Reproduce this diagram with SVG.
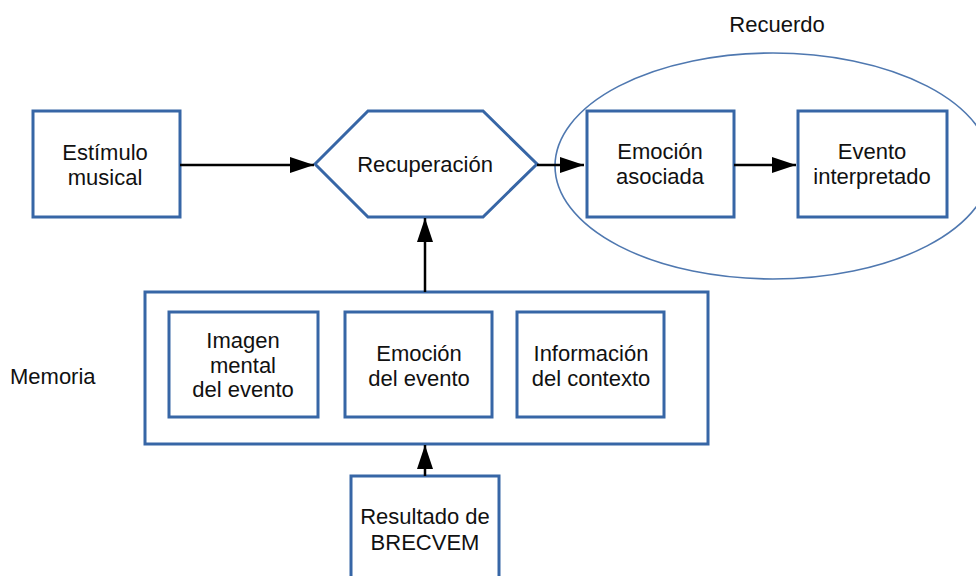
<svg xmlns="http://www.w3.org/2000/svg" width="976" height="576" viewBox="0 0 976 576">
<style>
.box{fill:#fff;stroke:#3766a6;stroke-width:3}
.ell{fill:none;stroke:#4f78b0;stroke-width:1.6}
.t{font-family:"Liberation Sans",Arial,sans-serif;font-size:22px;fill:#111;text-anchor:middle}
.l{font-family:"Liberation Sans",Arial,sans-serif;font-size:22px;fill:#111}
.c{stroke:#000;stroke-width:2.5;fill:none}
</style>
<defs>
<marker id="ah" viewBox="0 0 24 16" refX="24" refY="8" markerWidth="24" markerHeight="16" markerUnits="userSpaceOnUse" orient="auto">
<path d="M0,0 L24,8 L0,16 Z" fill="#000"/>
</marker>
</defs>
<rect width="976" height="576" fill="#fff"/>
<g id="recuerdo">
<ellipse class="ell" cx="773" cy="166" rx="218" ry="113"/>
<text class="t" x="777" y="32">Recuerdo</text>
</g>
<g id="memoria">
<rect class="box" x="145" y="292" width="563" height="152"/>
<text class="l" x="10" y="384">Memoria</text>
</g>
<g id="estimulo">
<rect class="box" x="33" y="111" width="147" height="106"/>
<text class="t" x="105" y="160">Estímulo</text>
<text class="t" x="105" y="185">musical</text>
</g>
<g id="recuperacion">
<polygon class="box" points="315,164 368,111 483,111 537,164 483,217 368,217"/>
<text class="t" x="425" y="172">Recuperación</text>
</g>
<g id="emocion-asociada">
<rect class="box" x="587" y="111" width="147" height="106"/>
<text class="t" x="660" y="159">Emoción</text>
<text class="t" x="660" y="184">asociada</text>
</g>
<g id="evento-interpretado">
<rect class="box" x="798" y="111" width="149" height="106"/>
<text class="t" x="872" y="159">Evento</text>
<text class="t" x="872" y="184">interpretado</text>
</g>
<g id="imagen-mental">
<rect class="box" x="169" y="312" width="149" height="105"/>
<text class="t" x="243" y="348">Imagen</text>
<text class="t" x="243" y="373">mental</text>
<text class="t" x="243" y="397">del evento</text>
</g>
<g id="emocion-evento">
<rect class="box" x="345" y="312" width="147" height="105"/>
<text class="t" x="419" y="361">Emoción</text>
<text class="t" x="419" y="386">del evento</text>
</g>
<g id="informacion-contexto">
<rect class="box" x="517" y="312" width="147" height="105"/>
<text class="t" x="591" y="361">Información</text>
<text class="t" x="591" y="386">del contexto</text>
</g>
<g id="brecvem">
<rect class="box" x="351" y="476" width="148" height="110"/>
<text class="t" x="425" y="524">Resultado de</text>
<text class="t" x="425" y="550">BRECVEM</text>
</g>
<g id="connectors">
<line class="c" x1="180" y1="165" x2="314" y2="165" marker-end="url(#ah)"/>
<line class="c" x1="537" y1="165" x2="584" y2="165" marker-end="url(#ah)"/>
<line class="c" x1="734" y1="165" x2="796" y2="165" marker-end="url(#ah)"/>
<line class="c" x1="425" y1="292" x2="425" y2="218" marker-end="url(#ah)"/>
<line class="c" x1="425" y1="476" x2="425" y2="445" marker-end="url(#ah)"/>
</g>
</svg>
